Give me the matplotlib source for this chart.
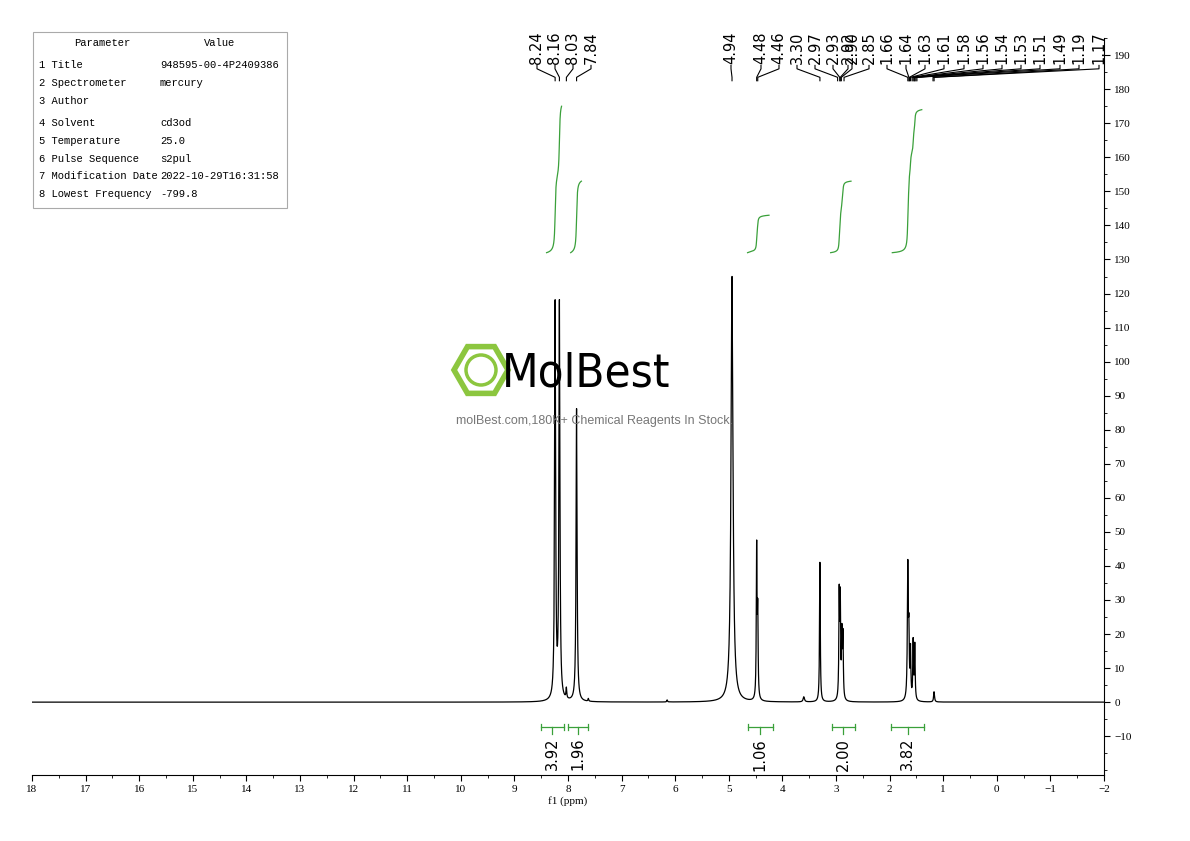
import numpy as np
import matplotlib.pyplot as plt
from matplotlib.patches import Rectangle, RegularPolygon, Circle

# peaks (ppm, height, half width)
peak_ppm = [8.24, 8.16, 8.03, 7.84, 7.62, 6.15, 4.94, 4.48, 4.46, 3.60, 3.30,
            2.94, 2.92, 2.89, 2.87, 1.66, 1.64, 1.61, 1.56, 1.53, 1.17]
peak_h = [116, 116, 3, 86, 0.8, 0.6, 125, 44, 24, 1.5, 41,
          30, 28, 18, 18, 39, 17, 14, 17, 16, 3]
peak_w = [0.011, 0.011, 0.008, 0.011, 0.008, 0.008, 0.022, 0.008, 0.008, 0.015, 0.008,
          0.008, 0.008, 0.008, 0.008, 0.01, 0.008, 0.008, 0.008, 0.008, 0.01]

labels = ["8.24", "8.16", "8.03", "7.84", "4.94", "4.48", "4.46", "3.30", "2.97",
          "2.93", "2.92", "2.90", "2.85", "1.66", "1.64", "1.63", "1.61", "1.58",
          "1.56", "1.54", "1.53", "1.51", "1.49", "1.19", "1.17"]
label_px = [537, 555, 573, 591, 731, 761, 779, 797, 815, 833, 848, 852, 869, 887,
            906, 925, 944, 964, 983, 1002, 1021, 1040, 1060, 1079, 1099]

# integrations
int_lo = [8.50, 8.00, 4.65, 3.08, 1.98]
int_hi = [8.08, 7.62, 4.18, 2.65, 1.35]
int_val = ["3.92", "1.96", "1.06", "2.00", "3.82"]
int_curve_lo = [8.40, 7.95, 4.65, 3.10, 1.95]
int_curve_hi = [8.12, 7.75, 4.25, 2.72, 1.40]
int_rise = [43, 21, 11, 21, 42]

param_names = ["Parameter", "1 Title", "2 Spectrometer", "3 Author", "4 Solvent",
               "5 Temperature", "6 Pulse Sequence", "7 Modification Date", "8 Lowest Frequency"]
param_vals = ["Value", "948595-00-4P2409386", "mercury", "", "cd3od", "25.0",
              "s2pul", "2022-10-29T16:31:58", "-799.8"]

serif = "Liberation Serif"
mono = "Liberation Mono"
fig = plt.figure(figsize=(11.9, 8.41), dpi=100)
ax = fig.add_axes([32/1190, 1-775/841, (1104-32)/1190, 745/841])

x = np.linspace(-2, 18, 40000)
y = np.zeros_like(x)
for p, h, w in zip(peak_ppm, peak_h, peak_w):
    y += h * w**2 / ((x - p)**2 + w**2)
ax.plot(x, y, color="black", lw=0.9)

ax.set_xlim(18, -2)
ax.set_ylim(-21.4, 197.4)

green = "#3aa03a"
for lo, hi, rise in zip(int_curve_lo, int_curve_hi, int_rise):
    m = (x >= hi) & (x <= lo)
    xs = x[m][::-1]
    ys = np.cumsum(y[m][::-1])
    ys = 132 + rise * ys / ys[-1]
    ax.plot(xs, ys, color=green, lw=0.9)

for a, b, v in zip(int_lo, int_hi, int_val):
    ax.plot([a, b], [-7.3, -7.3], color=green, lw=0.9)
    for e in (a, b):
        ax.plot([e, e], [-6.3, -8.3], color=green, lw=0.9)
    c = (a + b) / 2
    ax.plot([c, c], [-7.3, -9.5], color=green, lw=0.9)
    ax.text(c, -10.5, v, rotation=90, ha="center", va="top", fontsize=10.5, family="DejaVu Sans")

# peak labels
px2ppm = lambda px: 18 - (px - 32) / 53.6
for lab, px in zip(labels, label_px):
    lx = px2ppm(px)
    pv = float(lab)
    ax.text(lx, 187.5, lab, rotation=90, ha="center", va="bottom", fontsize=10.5, family="DejaVu Sans")
    ax.plot([lx, lx, pv, pv], [187, 186, 183.5, 182.5], color="black", lw=0.8)

# axes styling
for s in ("top", "left"):
    ax.spines[s].set_visible(False)
ax.spines["right"].set_bounds(-21.4, 195)
ax.yaxis.tick_right()
ax.set_yticks(np.arange(-10, 191, 10))
ax.set_yticks(np.arange(-20, 196, 5), minor=True)
ax.set_xticks(np.arange(-2, 18.1, 1))
ax.set_xticks(np.arange(-2, 18.1, 0.5), minor=True)
ax.set_xticklabels([str(int(v)).replace("-", "\u2212") for v in np.arange(-2, 18.1, 1)])
ax.set_yticklabels([str(int(v)).replace("-", "\u2212") for v in np.arange(-10, 191, 10)])
ax.tick_params(labelsize=8, length=4, direction="out")
ax.tick_params(which="minor", length=2)
for t in ax.get_xticklabels() + ax.get_yticklabels():
    t.set_family(serif)
ax.set_xlabel("f1 (ppm)", fontsize=8, family=serif, labelpad=1)

# parameter table
fig.patches.append(Rectangle((33/1190, 1-208/841), 254/1190, 176/841, transform=fig.transFigure,
                             fill=False, ec="#aaaaaa", lw=0.8))
rows_y = [43, 65, 83, 101, 123, 141, 159, 176, 194]
for i, (n, v, ry) in enumerate(zip(param_names, param_vals, rows_y)):
    xn = 102 if i == 0 else 39
    xv = 220 if i == 0 else 160
    ha = "center" if i == 0 else "left"
    fig.text(xn/1190, 1-ry/841, n, ha=ha, va="center", fontsize=7.6, family=mono)
    fig.text(xv/1190, 1-ry/841, v, ha=ha, va="center", fontsize=7.6, family=mono)

# watermark
lg = "#8cc63f"
ctr = (481/100, (841-370)/100)
fig.patches.append(RegularPolygon(ctr, 6, radius=0.27, orientation=np.pi/6,
                                  transform=fig.dpi_scale_trans, fill=False, ec=lg, lw=4))
fig.patches.append(Circle(ctr, 0.15, transform=fig.dpi_scale_trans,
                          fill=False, ec=lg, lw=2.5))
fig.text(586/1190, 1-374/841, "MolBest", ha="center", va="center", fontsize=34,
         family="DejaVu Sans", stretch="condensed", color="black")
fig.text(594/1190, 1-421/841, "molBest.com,180K+ Chemical Reagents In Stock.", ha="center",
         va="center", fontsize=9, color="#777777", family="Liberation Sans")

fig.savefig("out.png", dpi=100)
